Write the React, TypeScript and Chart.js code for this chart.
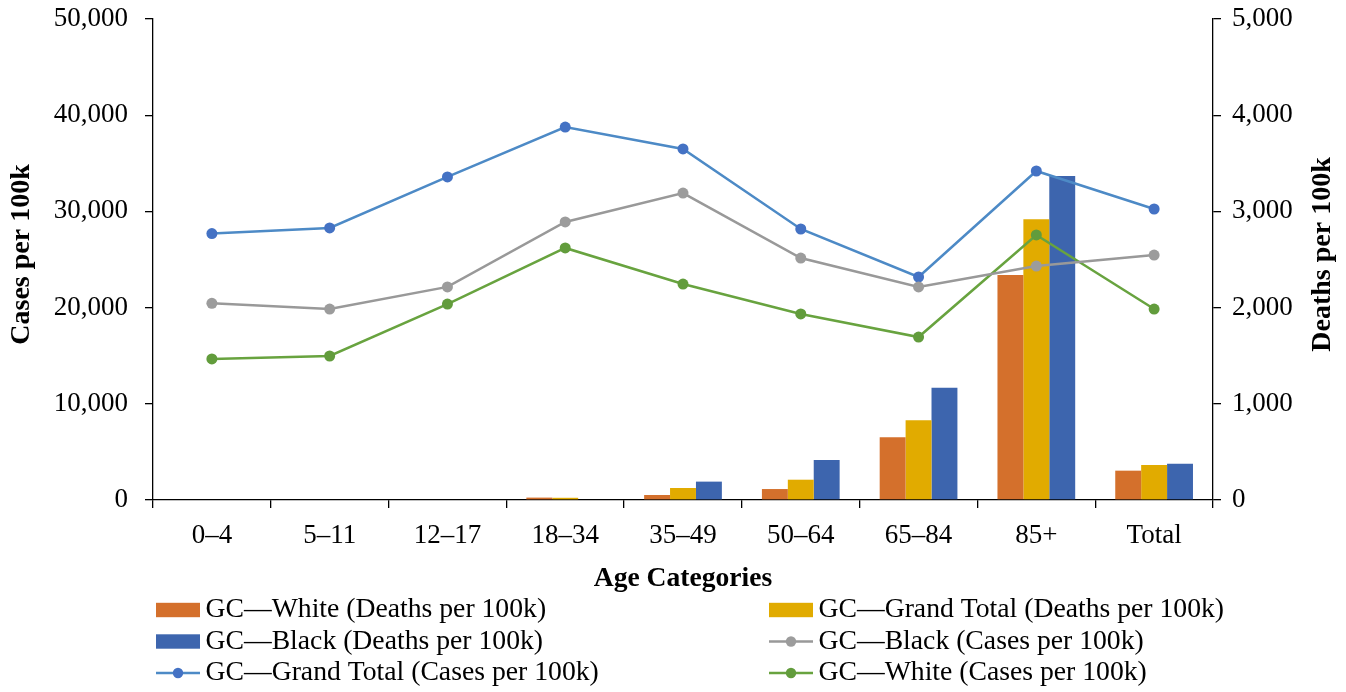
import React, { useEffect, useRef } from "react";
import { Chart, registerables } from "chart.js";

Chart.register(...registerables);

const categories = ["0–4", "5–11", "12–17", "18–34", "35–49", "50–64", "65–84", "85+", "Total"];

// Deaths per 100k (right axis, bars)
const whiteDeaths = [0, 0, 0, 25, 52, 114, 651, 2339, 305];
const grandTotalDeaths = [0, 0, 0, 23, 125, 211, 828, 2918, 364];
const blackDeaths = [0, 0, 0, 0, 191, 416, 1168, 3368, 378];

// Cases per 100k (left axis, lines)
const blackCases = [20450, 19850, 22150, 28900, 31900, 25150, 22150, 24320, 25460];
const grandTotalCases = [27700, 28280, 33580, 38770, 36490, 28170, 23180, 34200, 30250];
const whiteCases = [14660, 14970, 20370, 26200, 22450, 19340, 16940, 27550, 19850];

const casesTicks = [0, 10000, 20000, 30000, 40000, 50000];
const deathsTicks = [0, 1000, 2000, 3000, 4000, 5000];

const SERIF = "'Liberation Serif', 'Times New Roman', serif";

// Draws both vertical axis titles (reading bottom-to-top) and the two-column legend.
const legendPlugin = {
  id: "legendAndTitles",
  afterDraw(chart: any) {
    const ctx: CanvasRenderingContext2D = chart.ctx;
    const area = chart.chartArea;
    const midY = (area.top + area.bottom) / 2 - 5;
    ctx.save();

    ctx.font = `bold 28px ${SERIF}`;
    ctx.fillStyle = "#000";
    ctx.textAlign = "center";
    ctx.textBaseline = "middle";
    const titles: [string, number][] = [
      ["Cases per 100k", 22],
      ["Deaths per 100k", 1323],
    ];
    titles.forEach(([text, x]) => {
      ctx.setTransform(1, 0, 0, 1, x, midY);
      ctx.rotate(-Math.PI / 2);
      ctx.fillText(text, 0, 0);
    });
    ctx.setTransform(1, 0, 0, 1, 0, 0);

    const colX = [156, 769];
    const rowY = [610, 641.5, 673];
    ctx.font = `27.7px ${SERIF}`;
    ctx.textAlign = "left";
    ctx.textBaseline = "middle";
    chart.data.datasets.forEach((ds: any, i: number) => {
      const x = colX[i % 2];
      const y = rowY[Math.floor(i / 2)];
      if (ds.type === "line") {
        ctx.strokeStyle = ds.borderColor;
        ctx.lineWidth = 2.5;
        ctx.beginPath();
        ctx.moveTo(x, y);
        ctx.lineTo(x + 44, y);
        ctx.stroke();
        ctx.fillStyle = ds.pointBackgroundColor;
        ctx.beginPath();
        ctx.arc(x + 22, y, 5.2, 0, Math.PI * 2);
        ctx.fill();
      } else {
        ctx.fillStyle = ds.backgroundColor;
        ctx.fillRect(x, y - 7.2, 44, 14.4);
      }
      ctx.fillStyle = "#000";
      ctx.fillText(ds.label, x + 49.5, y);
    });
    ctx.restore();
  },
};

function lineSet(label: string, data: number[], line: string, point: string) {
  return {
    type: "line" as const,
    label,
    data,
    yAxisID: "y",
    borderColor: line,
    backgroundColor: point,
    pointBackgroundColor: point,
    pointBorderColor: point,
    pointBorderWidth: 0,
    pointRadius: 5.5,
    borderWidth: 2.5,
    tension: 0,
    fill: false,
    order: 1,
  };
}

function barSet(label: string, data: number[], color: string) {
  return {
    type: "bar" as const,
    label,
    data,
    yAxisID: "y1",
    backgroundColor: color,
    borderWidth: 0,
    categoryPercentage: 0.66,
    barPercentage: 1,
    order: 2,
  };
}

export default function App() {
  const canvasRef = useRef<HTMLCanvasElement | null>(null);

  useEffect(() => {
    const canvas = canvasRef.current;
    if (!canvas) return;

    const tickFont = { family: SERIF, size: 27 };
    const fmt = (v: number | string) => Number(v).toLocaleString("en-US");
    const axisGrid = {
      drawOnChartArea: false,
      drawTicks: true,
      tickLength: 8,
      color: "#000",
      lineWidth: 1.3,
    };
    const noVerticalPadding = (s: any, width: number) => {
      s.width = width;
      s.paddingTop = 0;
      s.paddingBottom = 0;
    };

    const chart = new Chart(canvas, {
      type: "bar",
      data: {
        labels: categories,
        datasets: [
          barSet("GC—White (Deaths per 100k)", whiteDeaths, "#D4702C"),
          barSet("GC—Grand Total (Deaths per 100k)", grandTotalDeaths, "#E1AB00"),
          barSet("GC—Black (Deaths per 100k)", blackDeaths, "#3D65AE"),
          lineSet("GC—Black (Cases per 100k)", blackCases, "#999999", "#9C9C9C"),
          lineSet("GC—Grand Total (Cases per 100k)", grandTotalCases, "#4D8AC6", "#4472C4"),
          lineSet("GC—White (Cases per 100k)", whiteCases, "#68A33F", "#629C3C"),
        ] as any,
      },
      options: {
        responsive: false,
        animation: false,
        layout: { padding: { top: 19, bottom: 97, left: 0, right: 0 } },
        plugins: {
          legend: { display: false },
          tooltip: { enabled: false },
        },
        scales: {
          x: {
            offset: true,
            grid: { ...axisGrid, display: true, offset: true },
            border: { display: true, color: "#000", width: 1.3 },
            ticks: {
              font: tickFont,
              color: "#000",
              padding: 12,
              maxRotation: 0,
              autoSkip: false,
            },
            title: {
              display: true,
              text: "Age Categories",
              color: "#000",
              font: { family: SERIF, size: 27.6, weight: "bold", lineHeight: 1 },
              padding: { top: 0, bottom: 2 },
            },
            afterFit: (s: any) => {
              s.height = 95;
            },
          },
          y: {
            position: "left",
            min: casesTicks[0],
            max: casesTicks[casesTicks.length - 1],
            afterBuildTicks: (s: any) => {
              s.ticks = casesTicks.map((v) => ({ value: v }));
            },
            grid: axisGrid,
            border: { display: true, color: "#000", width: 1.3 },
            ticks: { font: tickFont, color: "#000", padding: 17, callback: fmt },
            afterFit: (s: any) => noVerticalPadding(s, 153),
          },
          y1: {
            position: "right",
            min: deathsTicks[0],
            max: deathsTicks[deathsTicks.length - 1],
            afterBuildTicks: (s: any) => {
              s.ticks = deathsTicks.map((v) => ({ value: v }));
            },
            grid: axisGrid,
            border: { display: true, color: "#000", width: 1.3 },
            ticks: { font: tickFont, color: "#000", padding: 11, callback: fmt },
            afterFit: (s: any) => noVerticalPadding(s, 133),
          },
        },
      } as any,
      plugins: [legendPlugin],
    });

    return () => chart.destroy();
  }, []);

  return (
    <div
      style={{
        position: "fixed",
        left: 0,
        top: 0,
        width: 1346,
        height: 692,
        background: "#fff",
      }}
    >
      <canvas ref={canvasRef} width={1346} height={692} />
    </div>
  );
}
